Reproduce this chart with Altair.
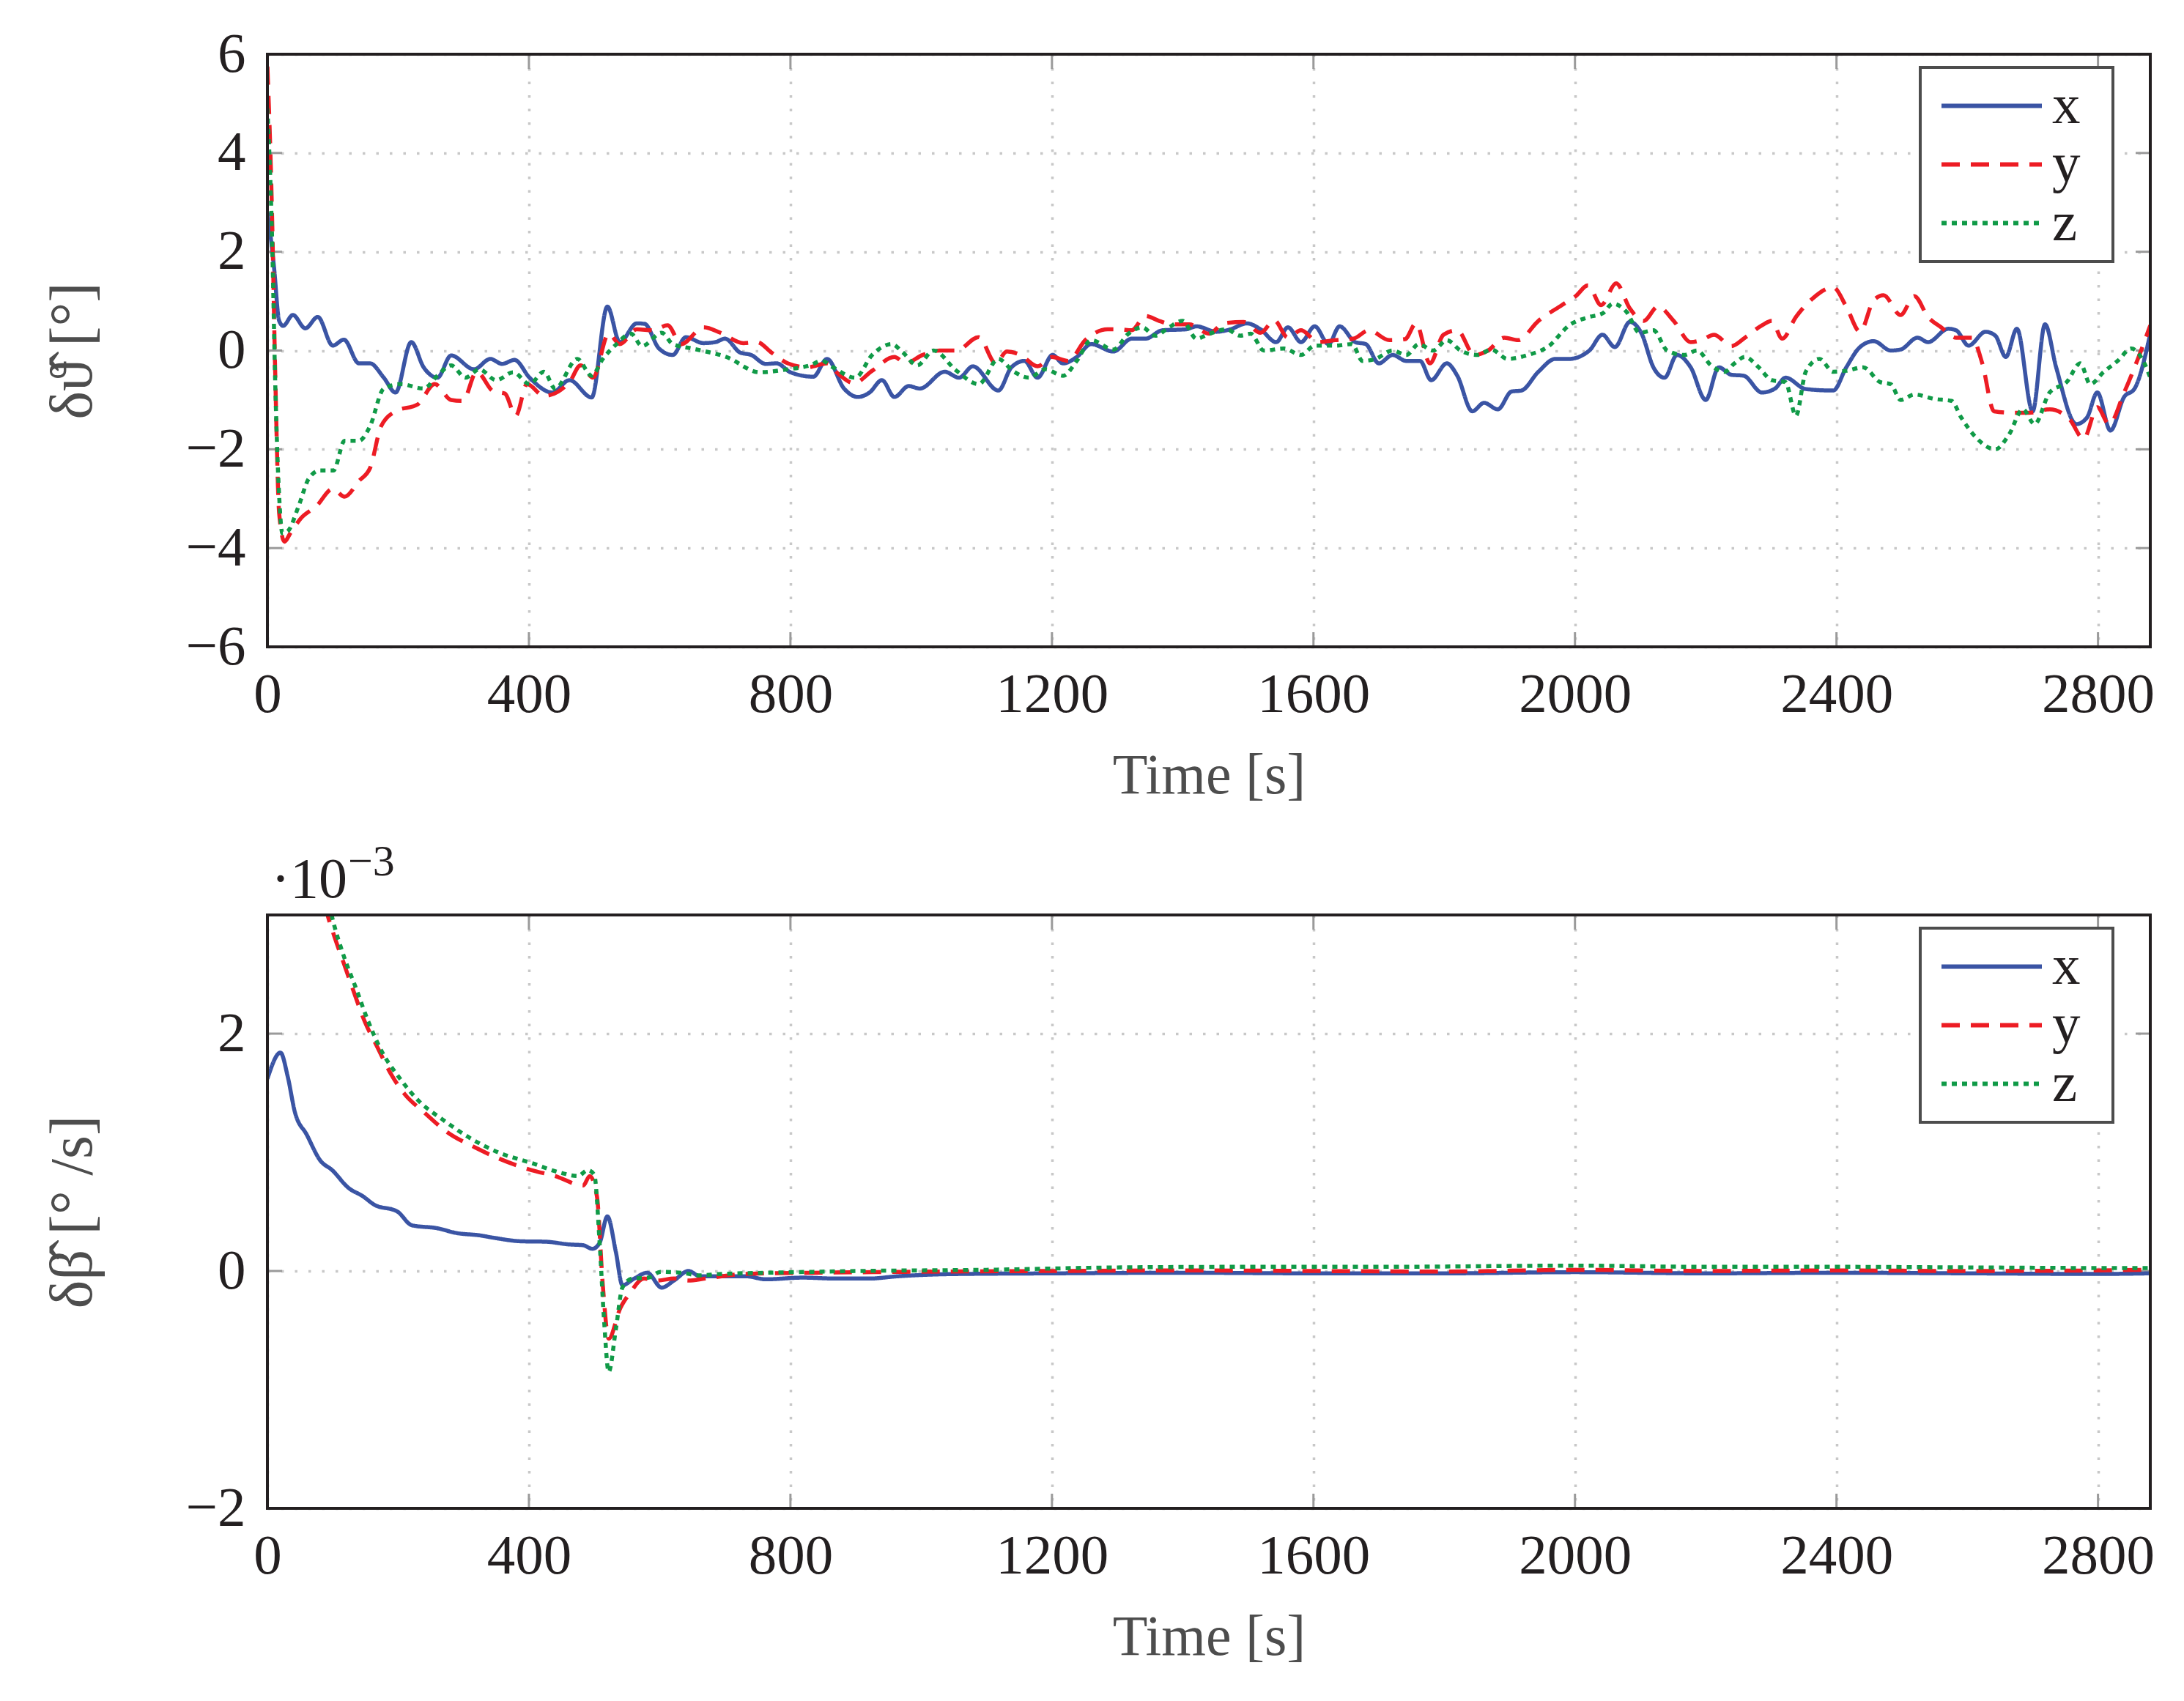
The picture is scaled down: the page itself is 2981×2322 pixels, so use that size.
import altair as alt
import pandas as pd

FONT = "Liberation Serif"
BLUE = "#3a54a4"
RED = "#ed1c24"
GREEN = "#109a47"
LABEL_C = "#231f20"
TITLE_C = "#4d4d4d"

SERIES = ["x", "y", "z"]
X_TICKS = [0, 400, 800, 1200, 1600, 2000, 2400, 2800]
Y_TICKS_TOP = [-6, -4, -2, 0, 2, 4, 6]
Y_TICKS_BOT = [-2, 0, 2]

# ---------- top panel: attitude error [deg] ----------
top_x_t = [0, 5, 10, 18, 24, 39, 58, 77, 100, 117, 140, 157, 178, 196, 220, 239, 260, 281, 316, 341,
           359, 378, 401, 436, 462, 496, 520, 539, 565, 577, 599, 620, 640, 667, 685, 700, 723, 740,
           762, 779, 800, 835, 856, 882, 903, 921, 940, 959, 981, 998, 1036, 1058, 1079, 1118, 1138,
           1158, 1178, 1201, 1217, 1238, 1260, 1294, 1322, 1343, 1369, 1405, 1421, 1452, 1473, 1498,
           1519, 1543, 1561, 1581, 1602, 1623, 1640, 1664, 1680, 1700, 1721, 1742, 1763, 1780, 1804,
           1820, 1843, 1861, 1882, 1903, 1918, 1944, 1970, 1991, 2022, 2042, 2061, 2084, 2102, 2120,
           2137, 2156, 2177, 2200, 2220, 2239, 2258, 2286, 2306, 2322, 2353, 2395, 2415, 2436, 2457,
           2483, 2498, 2524, 2540, 2571, 2583, 2602, 2628, 2643, 2659, 2676, 2700, 2719, 2736, 2767,
           2783, 2799, 2819, 2840, 2856, 2880]
top_x_v = [2.8, 2.3, 1.7, 0.6, 0.5, 0.72, 0.45, 0.68, 0.1, 0.22, -0.26, -0.26, -0.55, -0.85, 0.17, -0.34,
           -0.55, -0.1, -0.38, -0.17, -0.27, -0.19, -0.55, -0.85, -0.6, -0.95, 0.89, 0.17, 0.55, 0.54,
           0.04, -0.09, 0.27, 0.15, 0.17, 0.24, -0.04, -0.09, -0.27, -0.26, -0.44, -0.53, -0.17, -0.77,
           -0.94, -0.85, -0.6, -0.94, -0.72, -0.77, -0.43, -0.55, -0.32, -0.81, -0.34, -0.21, -0.55,
           -0.09, -0.26, -0.13, 0.13, -0.02, 0.24, 0.24, 0.41, 0.43, 0.49, 0.38, 0.43, 0.55, 0.43, 0.17,
           0.47, 0.17, 0.49, 0.13, 0.49, 0.17, 0.13, -0.26, -0.09, -0.21, -0.21, -0.6, -0.26, -0.51,
           -1.23, -1.06, -1.19, -0.83, -0.81, -0.43, -0.17, -0.17, 0.0, 0.32, 0.07, 0.58, 0.34, -0.34,
           -0.55, -0.09, -0.34, -1.0, -0.34, -0.49, -0.51, -0.85, -0.77, -0.55, -0.78, -0.81, -0.34,
           0.07, 0.19, 0.0, 0.02, 0.26, 0.17, 0.44, 0.41, 0.1, 0.38, 0.3, -0.13, 0.44, -1.23, 0.53,
           -0.34, -1.49, -1.36, -0.85, -1.62, -0.94, -0.77, 0.34]

top_y_t = [0, 7, 12, 18, 26, 35, 51, 75, 100, 118, 140, 157, 174, 196, 230, 256, 281, 299, 320, 346,
           363, 380, 397, 423, 462, 479, 498, 522, 539, 565, 590, 612, 633, 667, 693, 728, 749, 771,
           796, 826, 856, 873, 897, 925, 959, 976, 1002, 1028, 1054, 1088, 1114, 1131, 1152, 1178,
           1200, 1225, 1251, 1285, 1302, 1322, 1343, 1364, 1385, 1410, 1441, 1462, 1493, 1519, 1540,
           1561, 1581, 1607, 1633, 1661, 1685, 1716, 1740, 1757, 1778, 1799, 1820, 1846, 1867, 1892,
           1913, 1944, 1980, 2001, 2020, 2040, 2063, 2084, 2105, 2127, 2151, 2177, 2193, 2213, 2239,
           2260, 2286, 2301, 2317, 2338, 2364, 2395, 2415, 2436, 2457, 2472, 2498, 2519, 2540, 2560,
           2583, 2607, 2623, 2641, 2669, 2695, 2726, 2757, 2778, 2799, 2817, 2840, 2861, 2880]
top_y_v = [5.75, 2.8, -0.5, -3.3, -3.87, -3.7, -3.4, -3.15, -2.8, -2.96, -2.64, -2.38, -1.53, -1.23,
           -1.09, -0.68, -1.0, -1.02, -0.43, -0.83, -0.87, -1.32, -0.68, -0.92, -0.64, -0.3, -0.55, 0.34,
           0.13, 0.43, 0.41, 0.51, 0.13, 0.47, 0.36, 0.15, 0.17, -0.04, -0.26, -0.34, -0.26, -0.47, -0.66,
           -0.41, -0.13, -0.26, -0.09, 0.0, 0.0, 0.27, -0.26, -0.02, -0.09, -0.32, -0.13, -0.21, 0.21,
           0.43, 0.43, 0.41, 0.7, 0.6, 0.53, 0.53, 0.34, 0.55, 0.58, 0.36, 0.61, 0.26, 0.41, 0.17, 0.21,
           0.24, 0.41, 0.21, 0.23, 0.55, -0.26, 0.32, 0.41, -0.09, 0.0, 0.26, 0.21, 0.6, 0.92, 1.1, 1.32,
           0.92, 1.36, 0.85, 0.6, 0.89, 0.6, 0.17, 0.21, 0.32, 0.09, 0.26, 0.51, 0.6, 0.24, 0.68, 1.06,
           1.28, 0.89, 0.38, 1.02, 1.12, 0.72, 1.1, 0.68, 0.47, 0.26, 0.26, -0.26, -1.23, -1.26, -1.26,
           -1.19, -1.4, -1.79, -1.15, -1.49, -0.85, -0.17, 0.51]

top_z_t = [0, 7, 12, 18, 23, 31, 48, 63, 80, 101, 118, 140, 157, 178, 204, 239, 260, 281, 303, 324,
           350, 376, 401, 423, 440, 474, 496, 513, 534, 556, 573, 603, 620, 650, 702, 753, 796, 830,
           848, 865, 899, 925, 955, 972, 994, 1019, 1054, 1088, 1118, 1140, 1165, 1190, 1217, 1238,
           1260, 1294, 1317, 1338, 1358, 1379, 1400, 1421, 1441, 1467, 1488, 1504, 1524, 1555, 1581,
           1602, 1633, 1659, 1675, 1695, 1721, 1742, 1761, 1783, 1804, 1825, 1851, 1872, 1897, 1928,
           1960, 1991, 2022, 2042, 2058, 2079, 2099, 2120, 2141, 2167, 2187, 2208, 2229, 2244, 2260,
           2281, 2301, 2322, 2338, 2353, 2374, 2395, 2415, 2441, 2467, 2483, 2498, 2519, 2550, 2576,
           2591, 2612, 2643, 2664, 2685, 2703, 2726, 2752, 2773, 2788, 2809, 2830, 2851, 2871, 2880]
top_z_v = [4.9, 2.35, -0.68, -2.96, -3.7, -3.66, -3.14, -2.6, -2.43, -2.43, -1.83, -1.83, -1.53, -0.77,
           -0.68, -0.77, -0.51, -0.3, -0.55, -0.38, -0.6, -0.44, -0.68, -0.43, -0.77, -0.17, -0.51,
           -0.17, 0.13, 0.34, 0.09, 0.36, 0.13, 0.04, -0.13, -0.44, -0.38, -0.3, -0.21, -0.34, -0.55,
           -0.09, 0.13, -0.04, -0.3, 0.0, -0.41, -0.68, -0.17, -0.41, -0.55, -0.38, -0.51, -0.21, 0.21,
           0.02, 0.34, 0.47, 0.3, 0.47, 0.6, 0.24, 0.34, 0.43, 0.3, 0.34, 0.0, 0.04, -0.09, 0.1, 0.1,
           0.13, -0.21, -0.17, 0.0, -0.09, 0.13, 0.0, 0.21, 0.0, -0.09, 0.02, -0.17, -0.09, 0.09, 0.51,
           0.68, 0.75, 0.95, 0.78, 0.36, 0.41, 0.0, -0.09, 0.0, -0.3, -0.43, -0.26, -0.13, -0.34, -0.6,
           -0.64, -1.32, -0.43, -0.17, -0.43, -0.41, -0.34, -0.64, -0.68, -1.0, -0.89, -0.98, -1.02,
           -1.36, -1.74, -2.0, -1.7, -1.19, -1.49, -0.85, -0.64, -0.26, -0.68, -0.43, -0.21, 0.04,
           -0.26, -0.55]

# ---------- bottom panel: bias error [1e-3 deg/s] ----------
bot_x_t = [0, 20, 31, 42, 60, 81, 99, 124, 146, 163, 199, 221, 260, 289, 325, 346, 389, 425, 461, 483,
           497, 508, 520, 533, 543, 561, 581, 603, 622, 644, 662, 733, 762, 819, 870, 920, 963, 1049,
           1200, 1400, 1600, 1800, 2000, 2200, 2400, 2600, 2800, 2880]
bot_x_v = [1.62, 1.84, 1.64, 1.34, 1.15, 0.93, 0.85, 0.70, 0.63, 0.56, 0.50, 0.385, 0.36, 0.32, 0.30,
           0.28, 0.25, 0.247, 0.224, 0.217, 0.187, 0.235, 0.46, 0.16, -0.12, -0.064, -0.015, -0.14,
           -0.08, 0.0, -0.045, -0.045, -0.07, -0.056, -0.064, -0.064, -0.045, -0.026, -0.02, -0.015,
           -0.02, -0.02, -0.01, -0.02, -0.015, -0.02, -0.025, -0.02]

bot_y_t = [0, 40, 70, 92, 103, 117, 131, 149, 167, 189, 210, 239, 275, 318, 353, 404, 440, 483, 493,
           504, 513, 522, 540, 554, 576, 597, 622, 644, 669, 726, 834, 977, 1200, 1400, 1600, 1800,
           2000, 2200, 2400, 2600, 2800, 2880]
bot_y_v = [8.0, 5.0, 3.6, 3.0, 2.81, 2.59, 2.37, 2.10, 1.90, 1.66, 1.49, 1.34, 1.17, 1.04, 0.95, 0.85,
           0.80, 0.72, 0.80, 0.63, -0.12, -0.57, -0.31, -0.19, -0.064, -0.08, -0.064, -0.08, -0.064,
           -0.026, -0.015, -0.007, 0.0, 0.005, 0.0, -0.005, 0.01, 0.0, 0.005, 0.0, 0.005, 0.01]

bot_z_t = [0, 40, 70, 99, 117, 135, 153, 174, 203, 232, 267, 310, 353, 404, 447, 475, 490, 500, 508,
           515, 522, 533, 543, 558, 583, 601, 633, 662, 690, 762, 834, 906, 1100, 1300, 1500, 1700,
           2000, 2200, 2400, 2600, 2800, 2880]
bot_z_v = [8.5, 5.3, 3.8, 2.98, 2.65, 2.39, 2.12, 1.86, 1.62, 1.43, 1.28, 1.12, 1.0, 0.91, 0.83, 0.80,
           0.85, 0.81, 0.25, -0.42, -0.85, -0.49, -0.14, -0.064, -0.056, -0.007, -0.015, -0.037,
           -0.026, -0.015, -0.007, 0.0, 0.01, 0.03, 0.035, 0.035, 0.045, 0.035, 0.035, 0.03, 0.025,
           0.025]

SCALE_LABEL = ["·10"]
SCALE_EXP = ["−3"]


def frame(ts, vs, name):
    return pd.DataFrame({"t": ts, "v": vs, "s": name})


top_df = pd.concat([frame(top_x_t, top_x_v, "x"), frame(top_y_t, top_y_v, "y"),
                    frame(top_z_t, top_z_v, "z")], ignore_index=True)
bot_df = pd.concat([frame(bot_x_t, bot_x_v, "x"), frame(bot_y_t, bot_y_v, "y"),
                    frame(bot_z_t, bot_z_v, "z")], ignore_index=True)

W = 2570
H1 = 809
H2 = 810
TL = 20
TICK_C = "#9a9a9a"
SYM_LEN = 137.0
SYM_UNITS = 3.0


def legend():
    # a wide custom stroke path keeps the entry height at the label size;
    # a tiny blank title on the right widens the frame on that side
    r = SYM_LEN / (2 * SYM_UNITS)
    return alt.Legend(title="\u2800", titleOrient="right", titleFontSize=1, titlePadding=29,
                      orient="none", legendX=2256, legendY=18,
                      symbolType="M-3,0H3", symbolSize=(2 * r) ** 2, symbolStrokeWidth=6,
                      symbolOffset=45, labelOffset=44,
                      labelFontSize=77, labelFont=FONT, labelColor=LABEL_C,
                      padding=14, rowPadding=2,
                      strokeColor=TITLE_C, fillColor="white")


def panel(df, ydom, yticks, ytitle, H, extra=None):
    xs = alt.Scale(domain=[0, 2880], nice=False, zero=False)
    ys = alt.Scale(domain=ydom, nice=False, zero=False)
    xax = alt.Axis(values=X_TICKS, title="Time [s]", labelFlush=False, format="d")
    yax = alt.Axis(values=yticks, title=ytitle)
    xt = pd.DataFrame({"t": X_TICKS})
    yt = pd.DataFrame({"v": yticks})
    rule = dict(color=TICK_C, strokeWidth=3)
    t_top = alt.Chart(xt).mark_rule(**rule).encode(
        x=alt.X("t:Q", scale=xs, axis=xax), y=alt.value(0), y2=alt.value(TL))
    t_bot = alt.Chart(xt).mark_rule(**rule).encode(
        x=alt.X("t:Q", scale=xs, axis=xax), y=alt.value(H - TL), y2=alt.value(H))
    t_left = alt.Chart(yt).mark_rule(**rule).encode(
        y=alt.Y("v:Q", scale=ys, axis=yax), x=alt.value(0), x2=alt.value(TL))
    t_right = alt.Chart(yt).mark_rule(**rule).encode(
        y=alt.Y("v:Q", scale=ys, axis=yax), x=alt.value(W - TL), x2=alt.value(W))
    lines = alt.Chart(df).mark_line(clip=True, strokeWidth=5.5, interpolate="monotone").encode(
        x=alt.X("t:Q", scale=xs, axis=xax),
        y=alt.Y("v:Q", scale=ys, axis=yax),
        color=alt.Color("s:N", scale=alt.Scale(domain=SERIES, range=[BLUE, RED, GREEN]),
                        legend=legend()),
        strokeDash=alt.StrokeDash("s:N", scale=alt.Scale(domain=SERIES,
                                                          range=[[1, 0], [25, 15], [7, 7]]),
                                  legend=legend()),
        order=alt.Order("t:Q"),
    )
    border = alt.Chart(pd.DataFrame({"b": [0]})).mark_rect(
        fillOpacity=0, stroke=LABEL_C, strokeWidth=4).encode(
        x=alt.value(0), x2=alt.value(W), y=alt.value(0), y2=alt.value(H))
    layers = [t_top, t_bot, t_left, t_right, lines]
    if extra:
        layers += extra
    layers.append(border)
    return alt.layer(*layers).properties(width=W, height=H)


exp_base = alt.Chart(pd.DataFrame({"txt": SCALE_LABEL})).mark_text(
    font=FONT, fontSize=78, color=LABEL_C, align="left", baseline="alphabetic").encode(
    text="txt:N", x=alt.value(5), y=alt.value(-24))
exp_sup = alt.Chart(pd.DataFrame({"txt": SCALE_EXP})).mark_text(
    font=FONT, fontSize=60, color=LABEL_C, align="left", baseline="alphabetic").encode(
    text="txt:N", x=alt.value(110), y=alt.value(-54))

top = panel(top_df, [-6, 6], Y_TICKS_TOP, "δϑ\u0302 [°]", H1)
bottom = panel(bot_df, [-2, 3], Y_TICKS_BOT, "δβ\u0302 [° /s]", H2, [exp_base, exp_sup])

chart = alt.vconcat(top, bottom, spacing=47, padding={"left": 49, "top": 26, "right": 5, "bottom": 5}).resolve_scale(
    x="independent", y="independent", color="independent", strokeDash="independent"
).resolve_legend(color="independent", strokeDash="independent").configure_view(
    stroke="transparent"
).configure_axis(
    labelFont=FONT, titleFont=FONT, labelFontSize=77, titleFontSize=82,
    labelColor=LABEL_C, titleColor=TITLE_C, titleFontWeight="normal",
    grid=True, gridColor="#c8c8c8", gridDash=[3.5, 15], gridWidth=3.5,
    ticks=False, domain=False
).configure_axisX(
    labelPadding=27, titlePadding=34, titleFontSize=78
).configure_axisY(
    labelPadding=30, titlePadding=112
).configure_legend(
    strokeWidth=4
)

chart.save("out.html", embed_options={"renderer": "svg", "actions": False})
